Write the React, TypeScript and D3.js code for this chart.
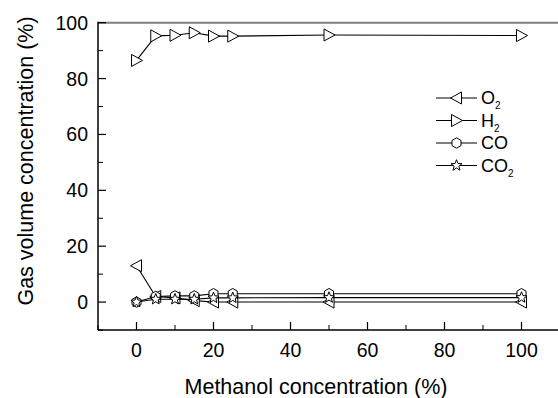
import React from "react";
import * as d3 from "d3";

const methanol = [0, 5, 10, 15, 20, 25, 50, 100];
const o2 = [13, 2, 1.5, 0.5, 0, 0, 0, 0];
const h2 = [86.5, 95.3, 95.5, 96.4, 95.2, 95.2, 95.6, 95.4];
const co = [0, 2, 2.2, 2.2, 3, 3, 3, 3];
const co2 = [0, 1, 1, 1, 1.5, 1.5, 1.6, 1.6];
const xTicks = [0, 20, 40, 60, 80, 100];
const xMinor = [-10, 10, 30, 50, 70, 90, 110];
const yTicks = [0, 20, 40, 60, 80, 100];
const yMinor = [-10, 10, 30, 50, 70, 90];

type Kind = "left" | "right" | "hex" | "star";
const series: { name: string; sub: string; values: number[]; kind: Kind }[] = [
  { name: "O", sub: "2", values: o2, kind: "left" },
  { name: "H", sub: "2", values: h2, kind: "right" },
  { name: "CO", sub: "", values: co, kind: "hex" },
  { name: "CO", sub: "2", values: co2, kind: "star" },
];

function markerPath(kind: Kind): string {
  if (kind === "left") return "M-6,0L5,-6L5,6Z";
  if (kind === "right") return "M6,0L-5,-6L-5,6Z";
  if (kind === "hex") {
    const pts = d3.range(6).map((i) => {
      const a = -Math.PI / 2 + (i * Math.PI) / 3;
      return [5.2 * Math.cos(a), 5.2 * Math.sin(a)];
    });
    return "M" + pts.map((p) => p.join(",")).join("L") + "Z";
  }
  const pts = d3.range(10).map((i) => {
    const r = i % 2 === 0 ? 5.8 : 2.5;
    const a = -Math.PI / 2 + (i * Math.PI) / 5;
    return [r * Math.cos(a), r * Math.sin(a)];
  });
  return "M" + pts.map((p) => p.join(",")).join("L") + "Z";
}

export default function App() {
  const W = 558, H = 398;
  const x = d3.scaleLinear().domain([-10, 110]).range([98, 560]);
  const y = d3.scaleLinear().domain([-10, 100]).range([330, 22.7]);
  const line = d3
    .line<number>()
    .x((_, i) => x(methanol[i]))
    .y((d) => y(d));
  const font = "Arial, 'Liberation Sans', sans-serif";
  const legendY = [98, 120.5, 143, 165.5];

  return (
    <svg width={W} height={H} style={{ position: "absolute", left: 0, top: 0 }} fontFamily={font}>
      <rect width={W} height={H} fill="#fff" />
      {/* frame */}
      <line x1={98} x2={W} y1={y(100)} y2={y(100)} stroke="#7f7f7f" strokeWidth={2} />
      <line x1={98} x2={98} y1={y(100) - 1} y2={330} stroke="#000" strokeWidth={1.5} />
      <line x1={98} x2={W} y1={330} y2={330} stroke="#000" strokeWidth={1.5} />
      {/* y ticks */}
      {yTicks.map((t) => (
        <g key={"y" + t}>
          <line x1={98} x2={106} y1={y(t)} y2={y(t)} stroke="#000" strokeWidth={1.2} />
          <text x={88} y={y(t)} dy="0.36em" textAnchor="end" fontSize={19.5}>
            {t}
          </text>
        </g>
      ))}
      {yMinor.map((t) => (
        <line key={"ym" + t} x1={98} x2={103} y1={y(t)} y2={y(t)} stroke="#000" strokeWidth={1} />
      ))}
      {/* x ticks */}
      {xTicks.map((t) => (
        <g key={"x" + t}>
          <line x1={x(t)} x2={x(t)} y1={330} y2={322} stroke="#000" strokeWidth={1.2} />
          <text x={x(t)} y={357} textAnchor="middle" fontSize={19.5}>
            {t}
          </text>
        </g>
      ))}
      {xMinor.map((t) => (
        <line key={"xm" + t} x1={x(t)} x2={x(t)} y1={330} y2={325} stroke="#000" strokeWidth={1} />
      ))}
      {/* titles */}
      <text x={316} y={394} textAnchor="middle" fontSize={21.5}>
        Methanol concentration (%)
      </text>
      <text transform={`translate(33,${161}) rotate(-90)`} textAnchor="middle" fontSize={21.5}>
        Gas volume concentration (%)
      </text>
      {/* data */}
      {series.map((s, si) => (
        <g key={"s" + si}>
          <path d={line(s.values) || ""} fill="none" stroke="#000" strokeWidth={1.1} />
          {s.values.map((v, i) => (
            <path
              key={i}
              d={markerPath(s.kind)}
              transform={`translate(${x(methanol[i])},${y(v)})`}
              fill="#fff"
              stroke="#000"
              strokeWidth={1}
            />
          ))}
        </g>
      ))}
      {/* legend */}
      {series.map((s, i) => (
        <g key={"l" + i} transform={`translate(0,${legendY[i]})`}>
          <line x1={436} x2={477} y1={0} y2={0} stroke="#000" strokeWidth={1.1} />
          <path d={markerPath(s.kind)} transform="translate(456.5,0)" fill="#fff" stroke="#000" strokeWidth={1} />
          <text x={481} y={0} dy="0.36em" fontSize={18}>
            {s.name}
            {s.sub && (
              <tspan fontSize={10} dy="5">
                {s.sub}
              </tspan>
            )}
          </text>
        </g>
      ))}
    </svg>
  );
}
